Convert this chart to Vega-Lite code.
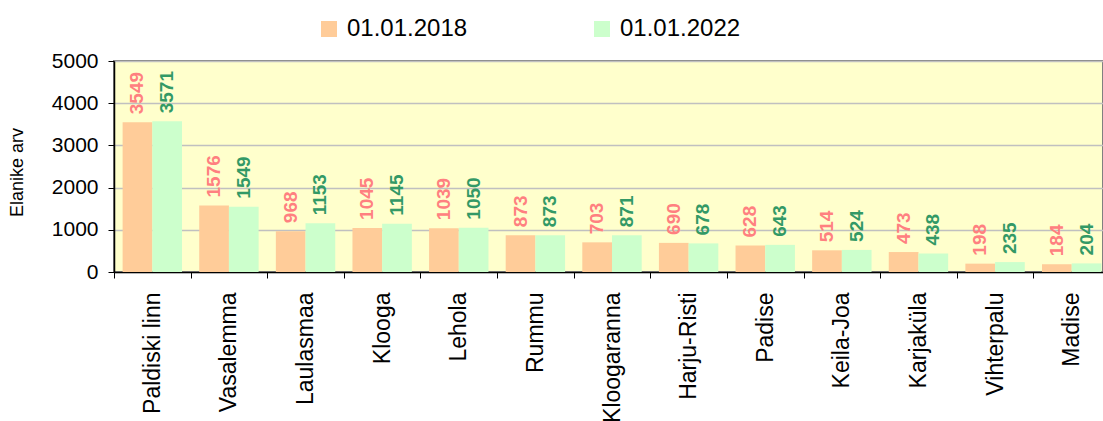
{
  "$schema": "https://vega.github.io/schema/vega-lite/v6.json",
  "autosize": "none",
  "width": 989,
  "height": 211,
  "padding": {"left": 114, "top": 61, "right": 0, "bottom": 149},
  "background": "white",
  "config": {
    "font": "Liberation Sans",
    "view": {"fill": "#FFFFCC", "stroke": "#808080", "strokeWidth": 2}
  },
  "data": {
    "values": [
      {"koht": "Paldiski linn", "series": "01.01.2018", "value": 3549},
      {"koht": "Paldiski linn", "series": "01.01.2022", "value": 3571},
      {"koht": "Vasalemma", "series": "01.01.2018", "value": 1576},
      {"koht": "Vasalemma", "series": "01.01.2022", "value": 1549},
      {"koht": "Laulasmaa", "series": "01.01.2018", "value": 968},
      {"koht": "Laulasmaa", "series": "01.01.2022", "value": 1153},
      {"koht": "Klooga", "series": "01.01.2018", "value": 1045},
      {"koht": "Klooga", "series": "01.01.2022", "value": 1145},
      {"koht": "Lehola", "series": "01.01.2018", "value": 1039},
      {"koht": "Lehola", "series": "01.01.2022", "value": 1050},
      {"koht": "Rummu", "series": "01.01.2018", "value": 873},
      {"koht": "Rummu", "series": "01.01.2022", "value": 873},
      {"koht": "Kloogaranna", "series": "01.01.2018", "value": 703},
      {"koht": "Kloogaranna", "series": "01.01.2022", "value": 871},
      {"koht": "Harju-Risti", "series": "01.01.2018", "value": 690},
      {"koht": "Harju-Risti", "series": "01.01.2022", "value": 678},
      {"koht": "Padise", "series": "01.01.2018", "value": 628},
      {"koht": "Padise", "series": "01.01.2022", "value": 643},
      {"koht": "Keila-Joa", "series": "01.01.2018", "value": 514},
      {"koht": "Keila-Joa", "series": "01.01.2022", "value": 524},
      {"koht": "Karjaküla", "series": "01.01.2018", "value": 473},
      {"koht": "Karjaküla", "series": "01.01.2022", "value": 438},
      {"koht": "Vihterpalu", "series": "01.01.2018", "value": 198},
      {"koht": "Vihterpalu", "series": "01.01.2022", "value": 235},
      {"koht": "Madise", "series": "01.01.2018", "value": 184},
      {"koht": "Madise", "series": "01.01.2022", "value": 204}
    ]
  },
  "encoding": {
    "x": {
      "field": "koht",
      "type": "nominal",
      "sort": null,
      "scale": {"range": [0, 996], "paddingInner": 0, "paddingOuter": 0},
      "axis": {
        "title": null,
        "labelAngle": -90,
        "labelAlign": "right",
        "labelBaseline": "middle",
        "labelFontSize": 23,
        "labelColor": "#000000",
        "labelPadding": 14,
        "tickBand": "extent",
        "tickSize": 6,
        "tickColor": "#000000",
        "domainColor": "#000000",
        "domainWidth": 1.5,
        "grid": false,
        "labelOverlap": false,
        "labelBound": false
      }
    },
    "xOffset": {
      "field": "series",
      "type": "nominal",
      "scale": {"paddingOuter": 0.29, "paddingInner": 0}
    },
    "y": {
      "field": "value",
      "type": "quantitative",
      "scale": {"domain": [0, 5000], "nice": false},
      "axis": {
        "title": "Elanike arv",
        "titleFontSize": 18,
        "titleFontWeight": "normal",
        "titleColor": "#000000",
        "titleX": -88,
        "titleY": 111,
        "titleAngle": -90,
        "titleAlign": "center",
        "titleBaseline": "bottom",
        "values": [0, 1000, 2000, 3000, 4000, 5000],
        "format": "d",
        "labelFontSize": 21,
        "labelColor": "#000000",
        "labelPadding": 10,
        "tickSize": 6,
        "tickColor": "#000000",
        "domainColor": "#000000",
        "domainWidth": 1.5,
        "gridColor": "#C0C0C0",
        "gridWidth": 1.5
      }
    }
  },
  "layer": [
    {
      "mark": {"type": "bar"},
      "encoding": {
        "color": {
          "field": "series",
          "type": "nominal",
          "scale": {"range": ["#FFCC99", "#CCFFCC"]},
          "legend": {
            "title": null,
            "orient": "none",
            "direction": "horizontal",
            "legendX": 203,
            "legendY": -44,
            "symbolType": "square",
            "symbolSize": 256,
            "symbolStrokeWidth": 0,
            "labelFontSize": 24,
            "labelColor": "#000000",
            "labelOffset": 6,
            "columnPadding": 122
          }
        }
      }
    },
    {
      "mark": {"type": "text", "angle": -90, "align": "left", "baseline": "middle", "dx": 8, "fontSize": 19, "fontWeight": "bold"},
      "encoding": {
        "text": {"field": "value", "type": "quantitative"},
        "color": {
          "field": "series",
          "type": "nominal",
          "scale": {"range": ["#FF8080", "#339966"]},
          "legend": null
        }
      }
    }
  ],
  "resolve": {"scale": {"color": "independent"}, "legend": {"color": "independent"}}
}
